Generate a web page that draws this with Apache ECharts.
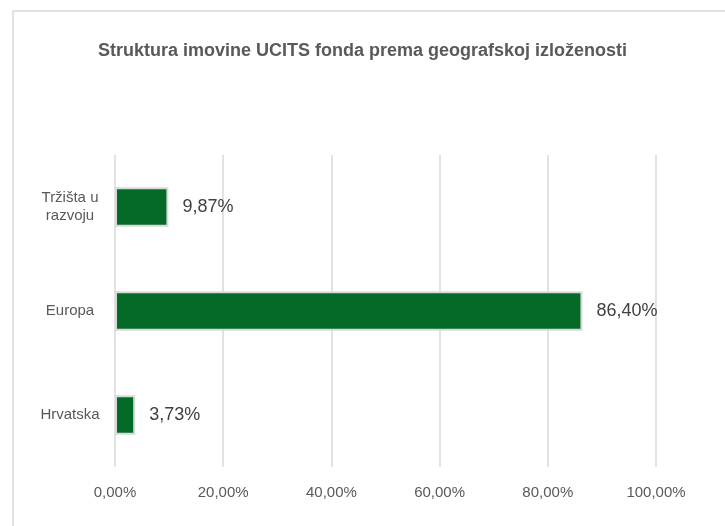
<!DOCTYPE html>
<html>
<head>
<meta charset="utf-8">
<script src="https://cdn.jsdelivr.net/npm/echarts@6/dist/echarts.min.js"></script>
<style>
  html, body { margin: 0; padding: 0; background: #fff; }
  #chart { width: 725px; height: 526px; }
</style>
</head>
<body>
<div id="chart"></div>
<script>
// podaci (odozdo prema gore)
const categories = ['Hrvatska', 'Europa', 'Tržišta u\nrazvoju']
const values = [3.73, 86.40, 9.87]
const tickValues = [0, 20, 40, 60, 80, 100]

const font = '"Liberation Sans Narrow", "Arial Narrow", "Liberation Sans", sans-serif'
const pct = v => v.toFixed(2).replace('.', ',') + '%'

let myChart = echarts.init(document.getElementById('chart'))
myChart.setOption({
  backgroundColor: '#fff',
  animation: false,
  title: {
    text: 'Struktura imovine UCITS fonda prema geografskoj izloženosti',
    left: 'center',
    top: 37,
    textStyle: {
      fontFamily: font,
      fontSize: 18,
      fontWeight: 'bold',
      color: '#595959'
    }
  },
  graphic: [{
    type: 'rect',
    shape: { x: 13, y: 11, width: 720, height: 530 },
    style: { fill: 'none', stroke: '#d9d9d9', lineWidth: 1.5 },
    silent: true
  }],
  grid: {
    left: 115,
    right: 69,
    top: 155,
    bottom: 59
  },
  xAxis: {
    type: 'value',
    min: tickValues[0],
    max: tickValues[tickValues.length - 1],
    interval: 20,
    axisLine: { show: false },
    axisTick: { show: false },
    splitLine: { lineStyle: { color: '#d9d9d9', width: 1.5 } },
    axisLabel: {
      margin: 18,
      fontFamily: font,
      fontSize: 15,
      color: '#595959',
      formatter: v => pct(v)
    }
  },
  yAxis: {
    type: 'category',
    data: categories,
    axisLine: { show: false },
    axisTick: { show: false },
    axisLabel: {
      margin: 45,
      align: 'center',
      lineHeight: 18,
      fontFamily: font,
      fontSize: 15,
      color: '#595959'
    }
  },
  series: [{
    type: 'bar',
    data: values,
    barWidth: '38%',
    itemStyle: {
      color: '#036b27',
      borderColor: '#d9d9d9',
      borderWidth: 2
    },
    label: {
      show: true,
      position: 'right',
      distance: 14,
      fontFamily: font,
      fontSize: 18,
      color: '#404040',
      formatter: p => pct(p.value)
    }
  }]
})
</script>
</body>
</html>
